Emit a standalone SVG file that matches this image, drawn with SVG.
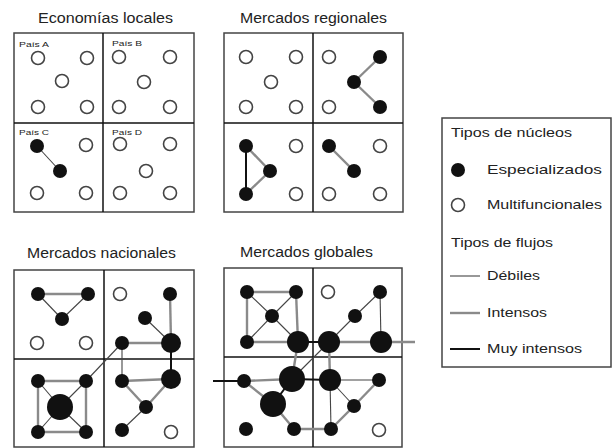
<svg xmlns="http://www.w3.org/2000/svg" width="614" height="448" viewBox="0 0 614 448">
<style>
text{font-family:"Liberation Sans",Arial,sans-serif;fill:#222}
.t{font-size:14px}
.s{font-size:8px}
.l{font-size:13.5px}
.frame{fill:none;stroke:#444;stroke-width:1.5}
.div{stroke:#111;stroke-width:1.5}
.w{fill:#fff;stroke:#444;stroke-width:1.6}
.b{fill:#111}
.weak{stroke:#444;stroke-width:1.1;fill:none}
.int{stroke:#8a8a8a;stroke-width:2.4;fill:none}
.strong{stroke:#111;stroke-width:2;fill:none}
</style>
<rect width="614" height="448" fill="#fff"/>

<g id="titles">
<text class="t" x="38" y="23" textLength="135" lengthAdjust="spacingAndGlyphs">Economías locales</text>
<text class="t" x="240" y="23" textLength="147" lengthAdjust="spacingAndGlyphs">Mercados regionales</text>
<text class="t" x="27" y="258" textLength="149" lengthAdjust="spacingAndGlyphs">Mercados nacionales</text>
<text class="t" x="240" y="257" textLength="133" lengthAdjust="spacingAndGlyphs">Mercados globales</text>
</g>

<g id="frames">
<rect class="frame" x="14" y="33" width="180" height="179"/>
<line class="div" x1="103" y1="33" x2="103" y2="212"/>
<line class="div" x1="14" y1="123" x2="194" y2="123"/>
<rect class="frame" x="224" y="33" width="179" height="179"/>
<line class="div" x1="313" y1="33" x2="313" y2="212"/>
<line class="div" x1="224" y1="123" x2="403" y2="123"/>
<rect class="frame" x="14" y="270" width="180" height="177"/>
<line class="div" x1="104" y1="270" x2="104" y2="447"/>
<line class="div" x1="14" y1="359" x2="194" y2="359"/>
<rect class="frame" x="224" y="268" width="178" height="179"/>
<line class="div" x1="313" y1="268" x2="313" y2="447"/>
<line class="div" x1="224" y1="357" x2="402" y2="357"/>
<text class="s" x="19" y="47" textLength="30" lengthAdjust="spacingAndGlyphs">País A</text>
<text class="s" x="112" y="46" textLength="30" lengthAdjust="spacingAndGlyphs">País B</text>
<text class="s" x="19" y="135" textLength="30" lengthAdjust="spacingAndGlyphs">País C</text>
<text class="s" x="112" y="135" textLength="30" lengthAdjust="spacingAndGlyphs">País D</text>
</g>

<g id="connectors">
<!-- panel 1 -->
<line class="weak" x1="37" y1="146" x2="60" y2="171"/>
<!-- panel 2 -->
<line class="int" x1="380" y1="57" x2="354" y2="82"/>
<line class="int" x1="354" y1="82" x2="380" y2="107"/>
<line class="strong" x1="246" y1="146" x2="246" y2="194"/>
<line class="int" x1="246" y1="146" x2="270" y2="171"/>
<line class="int" x1="270" y1="171" x2="246" y2="194"/>
<line class="int" x1="329" y1="146" x2="354" y2="171"/>
<!-- panel 3 -->
<line class="int" x1="38" y1="294" x2="88" y2="294"/>
<line class="weak" x1="38" y1="294" x2="62" y2="319"/>
<line class="weak" x1="62" y1="319" x2="88" y2="294"/>
<line class="int" x1="170" y1="294" x2="171" y2="343"/>
<line class="weak" x1="145" y1="318" x2="171" y2="343"/>
<line class="int" x1="122" y1="343" x2="171" y2="343"/>
<line class="weak" x1="122" y1="343" x2="122" y2="381"/>
<line class="weak" x1="122" y1="343" x2="86" y2="381"/>
<line class="int" x1="122" y1="381" x2="171" y2="379"/>
<line class="strong" x1="171" y1="343" x2="171" y2="379"/>
<line class="int" x1="122" y1="381" x2="146" y2="407"/>
<line class="int" x1="146" y1="407" x2="171" y2="379"/>
<line class="weak" x1="146" y1="407" x2="122" y2="430"/>
<line class="int" x1="38" y1="381" x2="86" y2="381"/>
<line class="int" x1="38" y1="381" x2="38" y2="432"/>
<line class="int" x1="86" y1="381" x2="86" y2="432"/>
<line class="int" x1="38" y1="432" x2="86" y2="432"/>
<line class="weak" x1="38" y1="381" x2="60" y2="407"/>
<line class="weak" x1="86" y1="381" x2="60" y2="407"/>
<line class="weak" x1="38" y1="432" x2="60" y2="407"/>
<line class="weak" x1="86" y1="432" x2="60" y2="407"/>
<!-- panel 4 -->
<line class="int" x1="247" y1="292" x2="296" y2="292"/>
<line class="int" x1="247" y1="292" x2="247" y2="342"/>
<line class="int" x1="296" y1="292" x2="298" y2="342"/>
<line class="int" x1="247" y1="342" x2="298" y2="342"/>
<line class="weak" x1="247" y1="292" x2="272" y2="316"/>
<line class="weak" x1="296" y1="292" x2="272" y2="316"/>
<line class="weak" x1="247" y1="342" x2="272" y2="316"/>
<line class="weak" x1="272" y1="316" x2="298" y2="342"/>
<line class="strong" x1="298" y1="342" x2="329" y2="342"/>
<line class="weak" x1="380" y1="292" x2="355" y2="316"/>
<line class="weak" x1="355" y1="316" x2="329" y2="342"/>
<line class="weak" x1="380" y1="292" x2="381" y2="342"/>
<line class="int" x1="329" y1="342" x2="381" y2="342"/>
<line class="int" x1="381" y1="342" x2="415" y2="342"/>
<line class="int" x1="298" y1="342" x2="292" y2="379"/>
<line class="weak" x1="329" y1="342" x2="292" y2="379"/>
<line class="int" x1="329" y1="342" x2="330" y2="380"/>
<line class="strong" x1="213" y1="381" x2="244" y2="381"/>
<line class="int" x1="244" y1="381" x2="292" y2="379"/>
<line class="int" x1="244" y1="381" x2="273" y2="404"/>
<line class="strong" x1="292" y1="379" x2="273" y2="404"/>
<line class="int" x1="273" y1="404" x2="294" y2="429"/>
<line class="int" x1="294" y1="429" x2="331" y2="429"/>
<line class="strong" x1="292" y1="379" x2="330" y2="380"/>
<line class="weak" x1="330" y1="380" x2="379" y2="380"/>
<line class="int" x1="379" y1="380" x2="354" y2="406"/>
<line class="weak" x1="330" y1="380" x2="354" y2="406"/>
<line class="int" x1="354" y1="406" x2="331" y2="429"/>
<line class="weak" x1="330" y1="380" x2="331" y2="429"/>
</g>

<g id="p1-nodes">
<g id="p1a1"><circle class="w" cx="38" cy="58" r="6.5"/></g>
<g id="p1a2"><circle class="w" cx="87" cy="58" r="6.5"/></g>
<g id="p1a3"><circle class="w" cx="62" cy="81" r="6.5"/></g>
<g id="p1a4"><circle class="w" cx="38" cy="107" r="6.5"/></g>
<g id="p1a5"><circle class="w" cx="87" cy="107" r="6.5"/></g>
<g id="p1b1"><circle class="w" cx="119" cy="57" r="6.5"/></g>
<g id="p1b2"><circle class="w" cx="170" cy="57" r="6.5"/></g>
<g id="p1b3"><circle class="w" cx="144" cy="82" r="6.5"/></g>
<g id="p1b4"><circle class="w" cx="119" cy="107" r="6.5"/></g>
<g id="p1b5"><circle class="w" cx="170" cy="107" r="6.5"/></g>
<g id="p1c1"><circle class="b" cx="37" cy="146" r="7"/></g>
<g id="p1c2"><circle class="w" cx="86" cy="145" r="6.5"/></g>
<g id="p1c3"><circle class="b" cx="60" cy="171" r="7"/></g>
<g id="p1c4"><circle class="w" cx="37" cy="193" r="6.5"/></g>
<g id="p1c5"><circle class="w" cx="86" cy="193" r="6.5"/></g>
<g id="p1d1"><circle class="w" cx="120" cy="144" r="6.5"/></g>
<g id="p1d2"><circle class="w" cx="170" cy="144" r="6.5"/></g>
<g id="p1d3"><circle class="w" cx="146" cy="171" r="6.5"/></g>
<g id="p1d4"><circle class="w" cx="120" cy="193" r="6.5"/></g>
<g id="p1d5"><circle class="w" cx="170" cy="193" r="6.5"/></g>
</g>

<g id="p2-nodes">
<g id="p2a1"><circle class="w" cx="246" cy="57" r="6.5"/></g>
<g id="p2a2"><circle class="w" cx="296" cy="57" r="6.5"/></g>
<g id="p2a3"><circle class="w" cx="271" cy="82" r="6.5"/></g>
<g id="p2a4"><circle class="w" cx="246" cy="107" r="6.5"/></g>
<g id="p2a5"><circle class="w" cx="296" cy="107" r="6.5"/></g>
<g id="p2b1"><circle class="w" cx="329" cy="57" r="6.5"/></g>
<g id="p2b2"><circle class="b" cx="380" cy="57" r="7"/></g>
<g id="p2b3"><circle class="b" cx="354" cy="82" r="7"/></g>
<g id="p2b4"><circle class="w" cx="329" cy="107" r="6.5"/></g>
<g id="p2b5"><circle class="b" cx="380" cy="107" r="7"/></g>
<g id="p2c1"><circle class="b" cx="246" cy="146" r="7"/></g>
<g id="p2c2"><circle class="w" cx="296" cy="146" r="6.5"/></g>
<g id="p2c3"><circle class="b" cx="270" cy="171" r="7"/></g>
<g id="p2c4"><circle class="b" cx="246" cy="194" r="7"/></g>
<g id="p2c5"><circle class="w" cx="296" cy="194" r="6.5"/></g>
<g id="p2d1"><circle class="b" cx="329" cy="146" r="7"/></g>
<g id="p2d2"><circle class="w" cx="380" cy="146" r="6.5"/></g>
<g id="p2d3"><circle class="b" cx="354" cy="171" r="7"/></g>
<g id="p2d4"><circle class="w" cx="329" cy="194" r="6.5"/></g>
<g id="p2d5"><circle class="w" cx="380" cy="194" r="6.5"/></g>
</g>

<g id="p3-nodes">
<g id="p3a1"><circle class="b" cx="38" cy="294" r="7"/></g>
<g id="p3a2"><circle class="b" cx="88" cy="294" r="7"/></g>
<g id="p3a3"><circle class="b" cx="62" cy="319" r="7"/></g>
<g id="p3a4"><circle class="w" cx="37" cy="343" r="6.5"/></g>
<g id="p3a5"><circle class="w" cx="86" cy="343" r="6.5"/></g>
<g id="p3b1"><circle class="w" cx="120" cy="294" r="6.5"/></g>
<g id="p3b2"><circle class="b" cx="170" cy="294" r="7"/></g>
<g id="p3b3"><circle class="b" cx="145" cy="318" r="7"/></g>
<g id="p3b4"><circle class="b" cx="122" cy="343" r="7"/></g>
<g id="p3b5"><circle class="b" cx="171" cy="343" r="10"/></g>
<g id="p3c1"><circle class="b" cx="38" cy="381" r="7"/></g>
<g id="p3c2"><circle class="b" cx="86" cy="381" r="7"/></g>
<g id="p3c3"><circle class="b" cx="60" cy="407" r="13"/></g>
<g id="p3c4"><circle class="b" cx="38" cy="432" r="7"/></g>
<g id="p3c5"><circle class="b" cx="86" cy="432" r="7"/></g>
<g id="p3d1"><circle class="b" cx="122" cy="381" r="7"/></g>
<g id="p3d2"><circle class="b" cx="171" cy="379" r="10"/></g>
<g id="p3d3"><circle class="b" cx="146" cy="407" r="7"/></g>
<g id="p3d4"><circle class="b" cx="122" cy="430" r="7"/></g>
<g id="p3d5"><circle class="w" cx="171" cy="432" r="6.5"/></g>
</g>

<g id="p4-nodes">
<g id="p4a1"><circle class="b" cx="247" cy="292" r="7"/></g>
<g id="p4a2"><circle class="b" cx="296" cy="292" r="7"/></g>
<g id="p4a3"><circle class="b" cx="272" cy="316" r="7"/></g>
<g id="p4a4"><circle class="b" cx="247" cy="342" r="7"/></g>
<g id="p4a5"><circle class="b" cx="298" cy="342" r="11"/></g>
<g id="p4b1"><circle class="w" cx="328" cy="292" r="6.5"/></g>
<g id="p4b2"><circle class="b" cx="380" cy="292" r="7"/></g>
<g id="p4b3"><circle class="b" cx="355" cy="316" r="7"/></g>
<g id="p4b4"><circle class="b" cx="329" cy="342" r="11"/></g>
<g id="p4b5"><circle class="b" cx="381" cy="342" r="11"/></g>
<g id="p4c1"><circle class="b" cx="244" cy="381" r="7"/></g>
<g id="p4c2"><circle class="b" cx="292" cy="379" r="13"/></g>
<g id="p4c3"><circle class="b" cx="273" cy="404" r="13"/></g>
<g id="p4c4"><circle class="b" cx="246" cy="429" r="7"/></g>
<g id="p4c5"><circle class="b" cx="294" cy="429" r="7"/></g>
<g id="p4d1"><circle class="b" cx="330" cy="380" r="11"/></g>
<g id="p4d2"><circle class="b" cx="379" cy="380" r="7"/></g>
<g id="p4d3"><circle class="b" cx="354" cy="406" r="7"/></g>
<g id="p4d4"><circle class="b" cx="331" cy="429" r="7"/></g>
<g id="p4d5"><circle class="w" cx="379" cy="430" r="6.5"/></g>
</g>

<g id="legend">
<rect class="frame" x="442" y="118" width="169" height="249"/>
<text class="l" x="451" y="137" textLength="121" lengthAdjust="spacingAndGlyphs">Tipos de núcleos</text>
<circle class="b" cx="458" cy="170" r="7"/>
<text class="l" x="487" y="174" textLength="115" lengthAdjust="spacingAndGlyphs">Especializados</text>
<circle class="w" cx="458" cy="205" r="6.5"/>
<text class="l" x="487" y="209" textLength="115" lengthAdjust="spacingAndGlyphs">Multifuncionales</text>
<text class="l" x="451" y="247" textLength="102" lengthAdjust="spacingAndGlyphs">Tipos de flujos</text>
<line class="weak" x1="450" y1="276" x2="480" y2="276"/>
<text class="l" x="487" y="280" textLength="53" lengthAdjust="spacingAndGlyphs">Débiles</text>
<line class="int" x1="450" y1="313" x2="480" y2="313"/>
<text class="l" x="487" y="317" textLength="60" lengthAdjust="spacingAndGlyphs">Intensos</text>
<line class="strong" x1="450" y1="349" x2="480" y2="349"/>
<text class="l" x="487" y="353" textLength="95" lengthAdjust="spacingAndGlyphs">Muy intensos</text>
</g>
</svg>
